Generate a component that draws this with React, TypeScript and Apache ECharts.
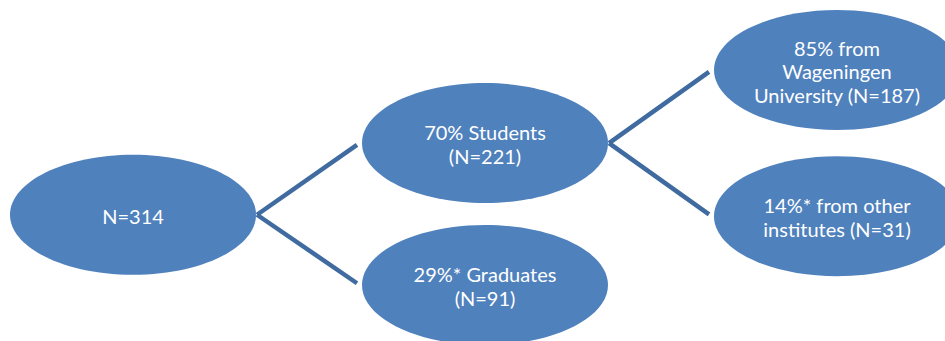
import React, { useEffect, useRef } from "react";
import * as echarts from "echarts";

// Tree nodes: label, depth level (x), vertical slot (y), parent index
const nodeLabels = [
  "N=314",
  "70% Students\n(N=221)",
  "29%* Graduates\n(N=91)",
  "85% from\nWageningen\nUniversity (N=187)",
  "14%* from other\ninstitutes (N=31)",
];
const nodeLevel = [0, 1, 1, 2, 2];
const nodeSlot = [0.51, 0.01, 1.0, -0.5, 0.52];
const nodeParent = [-1, 0, 0, 1, 1];

const RX = 123;
const RY = 60;
const FILL = "#4F81BD";
const LINE = "#3F6BA0";

export default function App() {
  const ref = useRef<HTMLDivElement>(null);

  useEffect(() => {
    if (!ref.current) return;
    const chart = echarts.init(ref.current, null, { renderer: "svg" });

    const nodeData = nodeLabels.map((l, i) => [nodeLevel[i], nodeSlot[i], l]);
    const edgeData: any[] = [];
    nodeParent.forEach((p, i) => {
      if (p >= 0) edgeData.push([nodeLevel[p], nodeSlot[p], nodeLevel[i], nodeSlot[i]]);
    });

    chart.setOption({
      animation: false,
      grid: { left: 133, right: 108, top: 70, bottom: 56 },
      xAxis: { type: "value", min: 0, max: 2, show: false },
      yAxis: { type: "value", min: -0.5, max: 1, inverse: true, show: false },
      series: [
        {
          type: "custom",
          clip: false,
          data: edgeData,
          renderItem: (params: any, api: any) => {
            const p = api.coord([api.value(0), api.value(1)]);
            const c = api.coord([api.value(2), api.value(3)]);
            const x1 = p[0] + RX + 1;
            const y1 = p[1];
            const x2 = c[0] - RX - 5;
            const y2 = c[1] + (p[1] - c[1]) * 0.025;
            return {
              type: "line",
              shape: { x1, y1, x2, y2 },
              style: { stroke: LINE, lineWidth: 4.5, lineCap: "butt" },
            };
          },
        },
        {
          type: "custom",
          clip: false,
          data: nodeData,
          renderItem: (params: any, api: any) => {
            const c = api.coord([api.value(0), api.value(1)]);
            const label = nodeLabels[params.dataIndex];
            return {
              type: "group",
              children: [
                {
                  type: "ellipse",
                  shape: { cx: c[0], cy: c[1], rx: RX, ry: RY },
                  style: { fill: FILL },
                },
                {
                  type: "text",
                  x: c[0],
                  y: c[1] + 1,
                  style: {
                    text: label,
                    fill: "#ffffff",
                    fontFamily: "Lato",
                    fontSize: 20,
                    lineHeight: 23.5,
                    align: "center",
                    verticalAlign: "middle",
                  },
                },
              ],
            };
          },
        },
      ],
    });

    return () => chart.dispose();
  }, []);

  return (
    <div
      ref={ref}
      style={{ position: "fixed", left: 0, top: 0, width: 945, height: 341, background: "#fff" }}
    />
  );
}
